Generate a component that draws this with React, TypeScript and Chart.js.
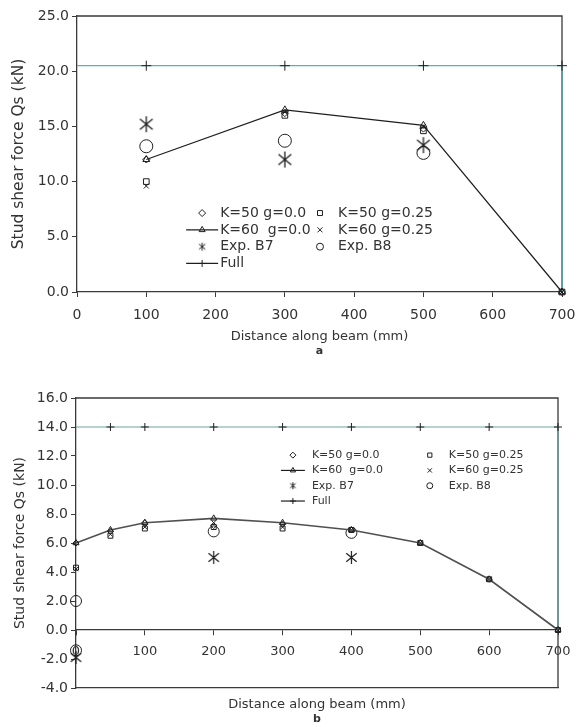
import React, { useEffect, useRef } from 'react';
import { Chart, registerables } from 'chart.js';
import { drawPoint } from 'chart.js/helpers';

Chart.register(...registerables);

const FONT = '"DejaVu Sans", "Liberation Sans", Arial, sans-serif';
const AXIS = '#3a3a3a';
const TEXT = '#333333';
const INK = '#1f1f1f';
const TEAL_A = '#4cb3bf';
const TEAL_B = '#6fa59f';

// ---------- labels ----------
const seriesLabels = ['K=50 g=0.0', 'K=60  g=0.0', 'K=50 g=0.25', 'K=60 g=0.25', 'Exp. B7', 'Exp. B8', 'Full'];
const xTitle = 'Distance along beam (mm)';
const yTitle = 'Stud shear force Qs (kN)';

// ---------- chart a data ----------
const xTicksA = [0, 100, 200, 300, 400, 500, 600, 700];
const yTicksA = [0, 5, 10, 15, 20, 25];
const aModelX = [100, 300, 500, 700];
const aK50g0 = [12.0, 16.2, 14.8, 0];
const aK60g0 = [12.0, 16.5, 15.1, 0];
const aK50g025 = [10.0, 16.0, 14.6, 0];
const aK60g025 = [9.6, 16.3, 15.0, 0];
const aExpX = [100, 300, 500];
const aB7 = [15.2, 12.0, 13.3];
const aB8 = [13.2, 13.7, 12.6];
const aFullX = [0, 100, 300, 500, 700, 700];
const aFullY = [20.5, 20.5, 20.5, 20.5, 20.5, 0];

// ---------- chart b data ----------
const xTicksB = [0, 100, 200, 300, 400, 500, 600, 700];
const yTicksB = [-4, -2, 0, 2, 4, 6, 8, 10, 12, 14, 16];
const bModelX = [0, 50, 100, 200, 300, 400, 500, 600, 700];
const bK50g0 = [6.0, 6.8, 7.4, 7.2, 7.3, 6.9, 6.0, 3.5, 0];
const bK60g0 = [6.0, 6.9, 7.4, 7.7, 7.4, 6.9, 6.0, 3.5, 0];
const bK50g025 = [4.3, 6.5, 7.0, 7.1, 7.0, 6.9, 6.0, 3.5, 0];
const bK60g025 = [4.2, 6.6, 7.1, 7.4, 7.1, 6.9, 6.0, 3.5, 0];
const bB7X = [0, 200, 400];
const bB7 = [-1.9, 5.0, 5.0];
const bB8X = [0, 0, 200, 400];
const bB8 = [2.0, -1.4, 6.8, 6.7];
const bFullX = [0, 50, 100, 200, 300, 400, 500, 600, 700, 700];
const bFullY = [14, 14, 14, 14, 14, 14, 14, 14, 14, 0];

function pts(xs: number[], ys: number[]) {
  return xs.map((x, i) => ({ x, y: ys[i] }));
}

function asteriskImage(r: number, color: string, lw: number): HTMLCanvasElement {
  const size = Math.ceil(2 * r + 4);
  const c = document.createElement('canvas');
  c.width = size;
  c.height = size;
  const g = c.getContext('2d')!;
  const cx = size / 2;
  const cy = size / 2;
  g.strokeStyle = color;
  g.lineWidth = lw;
  g.beginPath();
  g.moveTo(cx, cy - r);
  g.lineTo(cx, cy + r);
  const dx = r * 0.8;
  const dy = r * 0.65;
  g.moveTo(cx - dx, cy - dy);
  g.lineTo(cx + dx, cy + dy);
  g.moveTo(cx + dx, cy - dy);
  g.lineTo(cx - dx, cy + dy);
  g.stroke();
  return c;
}

const framePlugin = {
  id: 'frame',
  beforeDatasetsDraw(chart: any) {
    const { ctx, chartArea } = chart;
    const { left, top, right, bottom } = chartArea;
    ctx.save();
    ctx.strokeStyle = AXIS;
    ctx.lineWidth = 1.3;
    ctx.beginPath();
    ctx.moveTo(left, top);
    ctx.lineTo(right, top);
    ctx.lineTo(right, bottom);
    ctx.stroke();
    ctx.restore();
  },
};

const legendPlugin = {
  id: 'inlineLegend',
  afterDatasetsDraw(chart: any, _args: any, opts: any) {
    const { ctx, chartArea: ca } = chart;
    const w = ca.right - ca.left;
    const h = ca.bottom - ca.top;
    ctx.save();
    ctx.font = `${opts.fontSize}px ${FONT}`;
    ctx.textBaseline = 'middle';
    ctx.textAlign = 'left';
    opts.columns.forEach((col: any) => {
      const mx = ca.left + col.fx * w;
      col.rows.forEach((di: number, r: number) => {
        const ds = chart.data.datasets[di];
        const y = ca.top + opts.fy * h + r * opts.rowGap;
        if (ds.showLine) {
          ctx.strokeStyle = ds.legendLine || ds.borderColor;
          ctx.lineWidth = 1.2;
          ctx.beginPath();
          ctx.moveTo(mx - opts.lineHalf, y);
          ctx.lineTo(mx + opts.lineHalf, y);
          ctx.stroke();
        }
        ctx.strokeStyle = INK;
        ctx.fillStyle = 'rgba(0,0,0,0)';
        ctx.lineWidth = 1;
        drawPoint(ctx, { pointStyle: ds.legendStyle || ds.pointStyle, radius: opts.radius, borderWidth: 1, rotation: 0 } as any, mx, y);
        ctx.fillStyle = TEXT;
        ctx.fillText(ds.label, mx + opts.textGap, y);
      });
    });
    ctx.restore();
  },
};

function baseDatasets(
  s: { k50g0: any[]; k60g0: any[]; k50g025: any[]; k60g025: any[]; b7: any[]; b8: any[]; full: any[] },
  sz: { small: number; star: HTMLCanvasElement; starLegend: HTMLCanvasElement; circle: number; lineColor: string; lineWidth: number; teal: string; fullRadii: number[] }
) {
  const common = {
    pointBorderColor: INK,
    pointBackgroundColor: 'rgba(0,0,0,0)',
    pointBorderWidth: 1,
    clip: false as any,
  };
  return [
    { ...common, label: seriesLabels[0], data: s.k50g0, pointStyle: 'rectRot', pointRadius: sz.small, showLine: false },
    { ...common, label: seriesLabels[1], data: s.k60g0, pointStyle: 'triangle', pointRadius: sz.small + 0.5, showLine: true, borderColor: sz.lineColor, borderWidth: sz.lineWidth, legendLine: INK },
    { ...common, label: seriesLabels[2], data: s.k50g025, pointStyle: 'rect', pointRadius: sz.small + 0.5, showLine: false },
    { ...common, label: seriesLabels[3], data: s.k60g025, pointStyle: 'crossRot', pointRadius: sz.small, showLine: false },
    { ...common, label: seriesLabels[4], data: s.b7, pointStyle: sz.star, legendStyle: sz.starLegend, pointRadius: 8, showLine: false },
    { ...common, label: seriesLabels[5], data: s.b8, pointStyle: 'circle', pointRadius: sz.circle, showLine: false },
    { ...common, label: seriesLabels[6], data: s.full, pointStyle: 'cross', pointRadius: sz.fullRadii, showLine: true, borderColor: sz.teal, borderWidth: 1.2, legendLine: INK },
  ];
}

function tickSetter(values: number[]) {
  return (s: any) => {
    s.ticks = values.map((v) => ({ value: v }));
  };
}

function fitX(height: number) {
  return (s: any) => {
    s.height = height;
    s.paddingLeft = 0;
    s.paddingRight = 0;
  };
}

function fitY(width: number) {
  return (s: any) => {
    s.width = width;
    s.paddingTop = 0;
    s.paddingBottom = 0;
  };
}

function makeConfigA(): any {
  const datasets = baseDatasets(
    {
      k50g0: pts(aModelX, aK50g0),
      k60g0: pts(aModelX, aK60g0),
      k50g025: pts(aModelX, aK50g025),
      k60g025: pts(aModelX, aK60g025),
      b7: pts(aExpX, aB7),
      b8: pts(aExpX, aB8),
      full: pts(aFullX, aFullY),
    },
    {
      small: 3.5,
      star: asteriskImage(8, INK, 1.3),
      starLegend: asteriskImage(4, INK, 1),
      circle: 6.5,
      lineColor: INK,
      lineWidth: 1.2,
      teal: TEAL_A,
      fullRadii: [0, 5, 5, 5, 5, 0],
    }
  );
  return {
    type: 'scatter',
    data: { datasets },
    options: {
      animation: false,
      responsive: false,
      events: [],
      layout: { padding: { top: 16, right: 14, left: 0, bottom: 0 } },
      plugins: {
        legend: { display: false },
        tooltip: { enabled: false },
        subtitle: {
          display: true,
          position: 'bottom',
          fullSize: false,
          text: 'a',
          color: TEXT,
          font: { family: FONT, size: 11, weight: 'bold' },
          padding: { top: 0, bottom: 4 },
        },
        inlineLegend: {
          columns: [
            { fx: 0.258, rows: [0, 1, 4, 6] },
            { fx: 0.501, rows: [2, 3, 5] },
          ],
          fy: 0.714,
          rowGap: 16.8,
          textGap: 18,
          lineHalf: 16,
          fontSize: 14,
          radius: 3.5,
        },
      },
      scales: {
        x: {
          type: 'linear',
          min: 0,
          max: 700,
          afterBuildTicks: tickSetter(xTicksA),
          afterFit: fitX(52.8),
          ticks: { font: { family: FONT, size: 14 }, color: TEXT, padding: 10, maxRotation: 0, autoSkip: false },
          grid: { display: true, drawOnChartArea: false, drawTicks: true, tickLength: 5, color: AXIS },
          border: { display: true, color: AXIS, width: 1.3 },
          title: { display: true, text: xTitle, color: TEXT, font: { family: FONT, size: 13 }, padding: { top: 0, bottom: 0 } },
        },
        y: {
          type: 'linear',
          min: 0,
          max: 25,
          afterBuildTicks: tickSetter(yTicksA),
          afterFit: fitY(77),
          ticks: { font: { family: FONT, size: 14 }, color: TEXT, padding: 3, callback: (v: number) => v.toFixed(1) },
          grid: { display: true, drawOnChartArea: false, drawTicks: true, tickLength: 5, color: AXIS },
          border: { display: true, color: AXIS, width: 1.3 },
          title: { display: true, text: yTitle, color: TEXT, font: { family: FONT, size: 15.5 }, padding: { top: 9.5, bottom: 0 } },
        },
      },
    },
    plugins: [framePlugin, legendPlugin],
  };
}

function makeConfigB(): any {
  const datasets = baseDatasets(
    {
      k50g0: pts(bModelX, bK50g0),
      k60g0: pts(bModelX, bK60g0),
      k50g025: pts(bModelX, bK50g025),
      k60g025: pts(bModelX, bK60g025),
      b7: pts(bB7X, bB7),
      b8: pts(bB8X, bB8),
      full: pts(bFullX, bFullY),
    },
    {
      small: 3,
      star: asteriskImage(6.5, INK, 1.2),
      starLegend: asteriskImage(3.5, INK, 1),
      circle: 5.5,
      lineColor: '#505050',
      lineWidth: 1.6,
      teal: TEAL_B,
      fullRadii: [0, 4, 4, 4, 4, 4, 4, 4, 4, 0],
    }
  );
  return {
    type: 'scatter',
    data: { datasets },
    options: {
      animation: false,
      responsive: false,
      events: [],
      layout: { padding: { top: 36, right: 18, left: 0, bottom: 0 } },
      plugins: {
        legend: { display: false },
        tooltip: { enabled: false },
        subtitle: {
          display: true,
          position: 'bottom',
          fullSize: false,
          text: 'b',
          color: TEXT,
          font: { family: FONT, size: 11, weight: 'bold' },
          padding: { top: 0, bottom: 1 },
        },
        inlineLegend: {
          columns: [
            { fx: 0.45, rows: [0, 1, 4, 6] },
            { fx: 0.734, rows: [2, 3, 5] },
          ],
          fy: 0.197,
          rowGap: 15.3,
          textGap: 19,
          lineHalf: 12,
          fontSize: 11,
          radius: 3,
        },
      },
      scales: {
        x: {
          type: 'linear',
          position: 'bottom',
          min: 0,
          max: 700,
          afterFit: fitX(24.8),
          ticks: { display: false },
          grid: { display: false },
          border: { display: true, color: AXIS, width: 1.3 },
          title: { display: true, text: xTitle, color: TEXT, font: { family: FONT, size: 13 }, padding: { top: 0, bottom: 0 } },
        },
        x2: {
          type: 'linear',
          axis: 'x',
          position: { y: 0 },
          min: 0,
          max: 700,
          afterBuildTicks: tickSetter(xTicksB),
          afterFit: fitX(0),
          ticks: { font: { family: FONT, size: 13 }, color: TEXT, padding: 9, maxRotation: 0, autoSkip: false },
          grid: { display: true, drawOnChartArea: false, drawTicks: true, tickLength: 5, color: AXIS },
          border: { display: true, color: AXIS, width: 1.3 },
        },
        y: {
          type: 'linear',
          min: -4,
          max: 16,
          afterBuildTicks: tickSetter(yTicksB),
          afterFit: fitY(76),
          ticks: { font: { family: FONT, size: 14 }, color: TEXT, padding: 3, callback: (v: number) => v.toFixed(1) },
          grid: { display: true, drawOnChartArea: false, drawTicks: true, tickLength: 5, color: AXIS },
          border: { display: true, color: AXIS, width: 1.3 },
          title: { display: true, text: yTitle, color: TEXT, font: { family: FONT, size: 14 }, padding: { top: 11.6, bottom: 0 } },
        },
      },
    },
    plugins: [framePlugin, legendPlugin],
  };
}

export default function App() {
  const refA = useRef<HTMLCanvasElement>(null);
  const refB = useRef<HTMLCanvasElement>(null);
  useEffect(() => {
    const a = new Chart(refA.current!, makeConfigA());
    const b = new Chart(refB.current!, makeConfigB());
    return () => {
      a.destroy();
      b.destroy();
    };
  }, []);
  return (
    <div style={{ position: 'absolute', left: 0, top: 0, width: 576, height: 727, background: '#fff' }}>
      <canvas ref={refA} width={576} height={362} style={{ position: 'absolute', left: 0, top: 0, width: 576, height: 362 }} />
      <canvas ref={refB} width={576} height={365} style={{ position: 'absolute', left: 0, top: 362, width: 576, height: 365 }} />
    </div>
  );
}
